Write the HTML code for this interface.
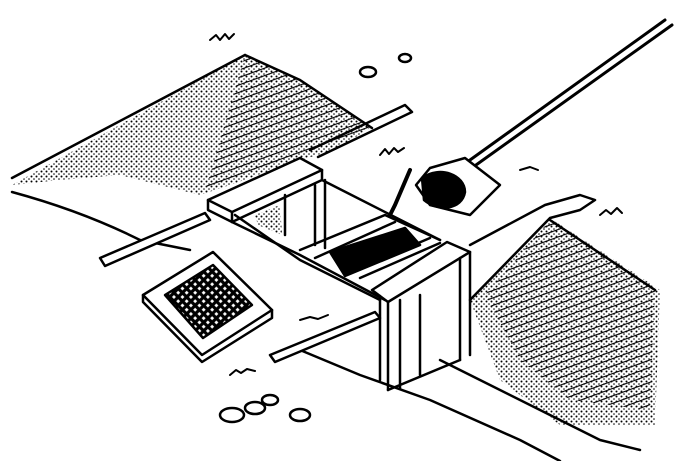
<!DOCTYPE html><html><head><style>html,body{margin:0;padding:0;background:#fff;width:690px;height:461px;overflow:hidden}</style></head><body>
<svg width="690" height="461" viewBox="0 0 690 461" xmlns="http://www.w3.org/2000/svg" fill="none" stroke="#000" stroke-width="2.5" stroke-linejoin="round" stroke-linecap="round">
<defs>
<pattern id="h" width="7" height="7" patternUnits="userSpaceOnUse" patternTransform="rotate(70)"><line x1="0" y1="0" x2="0" y2="7" stroke="#000" stroke-width="2.2"/></pattern>
<pattern id="d" width="5" height="5" patternUnits="userSpaceOnUse"><circle cx="1.5" cy="1.5" r="1" fill="#000" stroke="none"/><circle cx="4" cy="4" r="0.8" fill="#000" stroke="none"/></pattern>
<pattern id="x" width="6" height="6" patternUnits="userSpaceOnUse" patternTransform="rotate(45)"><rect width="6" height="6" fill="#000" stroke="none"/><rect x="1.6" y="1.6" width="2.8" height="2.8" fill="#fff" stroke="none"/></pattern>
</defs>
<!-- left bank -->
<path d="M12 178 L245 55" />
<path d="M245 55 L300 80 L370 128 L335 150 L300 160 L230 185 L200 195 L160 185 L120 175 L60 180 L12 185 Z" fill="url(#d)" stroke="none"/>
<path d="M245 55 L300 80 L372 128 L320 150 L205 192 Z" fill="url(#h)" stroke="none"/>
<path d="M12 192 C60 205 100 220 140 240 L190 250" />
<path d="M245 55 L300 80 L372 128"/>
<!-- left long plank -->
<path d="M100 258 L205 213 L210 220 L105 266 Z" fill="#fff"/>
<path d="M310 150 L405 105 L412 112 L318 157"/>
<!-- ground edges -->
<path d="M235 215 L300 260 L380 300"/>
<path d="M300 350 L360 375 L430 400 L520 440 L560 461"/>
<path d="M270 355 L375 312 L380 318 L275 362 Z" fill="#fff"/>
<!-- box top plank -->
<path d="M208 200 L300 158 L322 170 L232 212 Z" fill="#fff"/>
<path d="M208 200 L208 210 L232 222 L232 212"/>
<path d="M232 222 L322 180 L322 170"/>
<!-- box interior -->
<path d="M232 222 L300 255 L385 300"/>
<path d="M322 180 L440 240"/>
<path d="M285 195 L285 235 M315 185 L315 245"/>
<path d="M325 180 L325 248"/>
<path d="M255 215 L280 205 L282 235 L258 225 Z" fill="url(#d)" stroke="none"/>
<path d="M300 250 L385 215 L440 240"/>
<path d="M315 258 L395 222 M360 278 L440 243 M355 270 L430 238"/>
<path d="M330 252 L405 228 L420 245 L345 276 Z" fill="#000"/>
<!-- front plank -->
<path d="M372 290 L447 242 L470 252 L388 302 Z" fill="#fff"/>
<path d="M388 302 L388 390 M380 296 L380 380 M470 252 L470 355 M460 258 L460 360"/>
<path d="M388 390 L460 360 M400 300 L400 388 M420 295 L420 375"/>
<!-- right bank -->
<path d="M470 300 L550 218 L660 290 L655 425 L560 425 L500 380 Z" fill="url(#d)" stroke="none"/>
<path d="M485 295 L550 220 L655 290 L650 410 L570 400 L520 360 Z" fill="url(#h)" stroke="none"/>
<path d="M470 300 L550 218 L580 210 L595 200 L580 195 L545 205 L470 245"/>
<path d="M550 220 L655 290"/>
<path d="M440 360 C480 380 520 400 560 420 L600 440 L640 450"/>
<!-- shovel -->
<path d="M665 20 L470 160 M672 25 L476 165" stroke-width="3"/>
<path d="M430 168 L465 158 L500 185 L470 215 L430 205 L416 185 Z" fill="#fff"/>
<path d="M422 178 C440 165 465 175 465 192 C462 210 438 212 424 200 Z" fill="#000"/>
<path d="M410 170 L395 205 L390 215" stroke-width="4"/>
<!-- screen -->
<path d="M143 295 L213 252 L272 310 L202 355 Z" fill="#fff"/>
<path d="M143 295 L143 302 L202 362 L272 318 L272 310"/>
<path d="M165 295 L213 265 L252 305 L203 338 Z" fill="url(#x)"/>
<!-- stones -->
<ellipse cx="232" cy="415" rx="12" ry="7"/><ellipse cx="255" cy="408" rx="10" ry="6"/><ellipse cx="270" cy="400" rx="8" ry="5"/><ellipse cx="300" cy="415" rx="10" ry="6"/>
<ellipse cx="368" cy="72" rx="8" ry="5"/><ellipse cx="405" cy="58" rx="6" ry="4"/>
<!-- grass marks -->
<path d="M210 40 l6 -5 l4 5 l5 -6 l4 5 l5 -5" stroke-width="2"/>
<path d="M380 155 l5 -6 l4 5 l5 -6 l4 4 l6 -4" stroke-width="2"/>
<path d="M300 320 l10 -3 l8 2 l10 -4" stroke-width="2"/>
<path d="M230 375 l6 -5 l5 3 l6 -4 l8 2" stroke-width="2"/>
<path d="M600 215 l6 -5 l5 4 l6 -6 l5 5" stroke-width="2"/>
<path d="M520 170 l10 -3 l8 3" stroke-width="2"/>
</svg>
</body></html>
